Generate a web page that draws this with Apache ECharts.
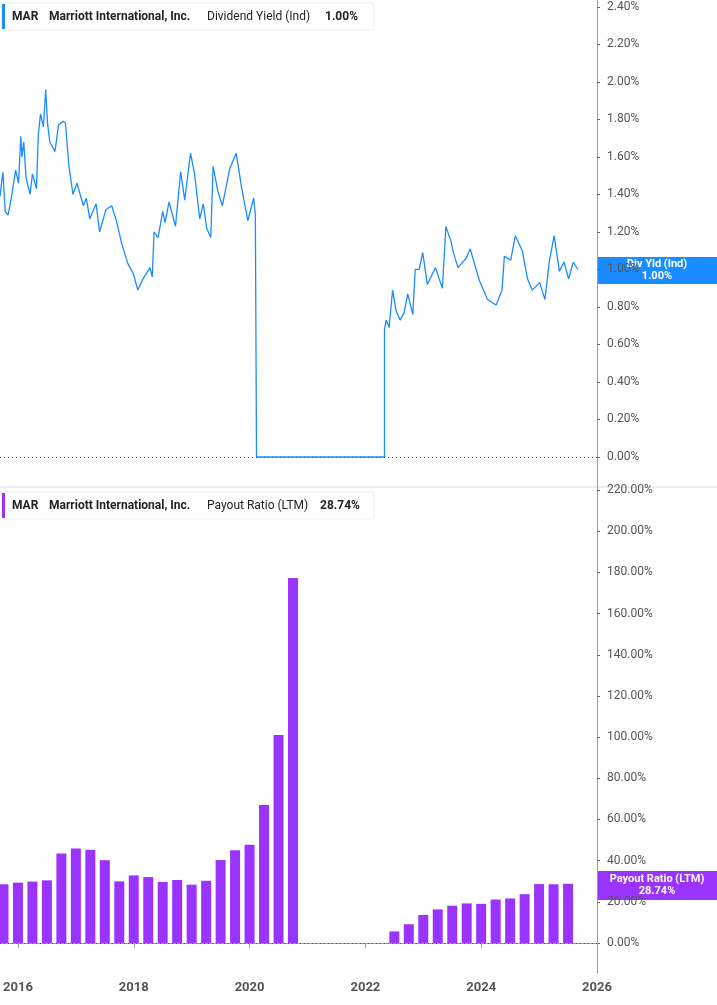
<!DOCTYPE html>
<html>
<head>
<meta charset="utf-8">
<script src="https://cdn.jsdelivr.net/npm/echarts@6/dist/echarts.min.js"></script>
<style>
  html, body { margin: 0; padding: 0; background: #fff; }
  #chart { width: 717px; height: 1005px; }
</style>
</head>
<body>
<div id="chart"></div>
<script>
// dividend yield (%), dates as decimal years
var yieldYears = [2015.69, 2015.74, 2015.78, 2015.83, 2015.89, 2015.96, 2016.01, 2016.05, 2016.07, 2016.10,
    2016.14, 2016.21, 2016.25, 2016.32, 2016.35, 2016.39, 2016.44, 2016.48, 2016.51, 2016.55,
    2016.64, 2016.70, 2016.78, 2016.82, 2016.88, 2016.95, 2017.02, 2017.13, 2017.18, 2017.24,
    2017.35, 2017.41, 2017.52, 2017.62, 2017.70, 2017.79, 2017.90, 2017.99, 2018.07, 2018.16,
    2018.28, 2018.32, 2018.35, 2018.42, 2018.50, 2018.54, 2018.61, 2018.72, 2018.81, 2018.88,
    2018.98, 2019.05, 2019.14, 2019.20, 2019.26, 2019.33, 2019.37, 2019.45, 2019.53, 2019.66,
    2019.77, 2019.86, 2019.97, 2020.07, 2020.10, 2020.12, 2020.12, 2022.33, 2022.33,
    2022.36, 2022.41, 2022.47, 2022.53, 2022.60, 2022.67, 2022.73, 2022.82, 2022.86, 2022.93,
    2022.99, 2023.07, 2023.21, 2023.33, 2023.39, 2023.48, 2023.52, 2023.60, 2023.74, 2023.81,
    2023.97, 2024.11, 2024.26, 2024.36, 2024.40, 2024.51, 2024.59, 2024.71, 2024.80, 2024.88,
    2025.01, 2025.10, 2025.18, 2025.26, 2025.35, 2025.43, 2025.51, 2025.59, 2025.67];
var yieldValues = [1.39, 1.52, 1.31, 1.29, 1.39, 1.53, 1.46, 1.71, 1.60, 1.68,
    1.49, 1.40, 1.51, 1.43, 1.71, 1.83, 1.76, 1.96, 1.78, 1.68,
    1.63, 1.77, 1.79, 1.78, 1.55, 1.40, 1.46, 1.34, 1.38, 1.27,
    1.35, 1.20, 1.32, 1.34, 1.26, 1.14, 1.03, 0.98, 0.89, 0.95,
    1.01, 0.96, 1.20, 1.17, 1.31, 1.25, 1.36, 1.23, 1.52, 1.37,
    1.62, 1.51, 1.27, 1.35, 1.22, 1.17, 1.55, 1.42, 1.34, 1.54,
    1.62, 1.44, 1.26, 1.38, 1.29, 1.29, 0, 0, 0.68,
    0.73, 0.69, 0.89, 0.78, 0.73, 0.77, 0.87, 0.76, 1.00, 1.00,
    1.09, 0.92, 1.01, 0.90, 1.23, 1.15, 1.09, 1.01, 1.06, 1.11,
    0.94, 0.84, 0.81, 0.89, 1.07, 1.05, 1.18, 1.10, 0.95, 0.89,
    0.93, 0.84, 1.05, 1.18, 0.99, 1.04, 0.95, 1.04, 1.00];

// payout ratio (LTM, %), quarter ends as decimal years
var payoutYears = [2015.75, 2016.0, 2016.25, 2016.5, 2016.75, 2017.0,
    2017.25, 2017.5, 2017.75, 2018.0, 2018.25, 2018.5,
    2018.75, 2019.0, 2019.25, 2019.5, 2019.75, 2020.0,
    2020.25, 2020.5, 2020.75,
    2022.5, 2022.75, 2023.0, 2023.25, 2023.5, 2023.75,
    2024.0, 2024.25, 2024.5, 2024.75, 2025.0, 2025.25, 2025.5];
var payoutValues = [28.5, 29.3, 29.8, 30.4, 43.4, 45.9, 45.3, 40.2, 29.9, 32.8, 32.0, 29.6,
    30.6, 28.3, 30.2, 40.3, 45.0, 47.7, 67.0, 101.0, 177.3,
    5.6, 9.1, 13.6, 16.3, 18.1, 19.2, 19.0, 21.1, 21.6, 23.7, 28.6, 28.5, 28.74];

var yieldTicks = [0, 0.2, 0.4, 0.6, 0.8, 1.0, 1.2, 1.4, 1.6, 1.8, 2.0, 2.2, 2.4];
var payoutTicks = [0, 20, 40, 60, 80, 100, 120, 140, 160, 180, 200, 220];
var yearTicks = [2016, 2018, 2020, 2022, 2024, 2026];

var yieldData = yieldYears.map(function (d, i) { return [d, yieldValues[i]]; });
var payoutData = payoutYears.map(function (d, i) { return [d, payoutValues[i]]; });

var chart = echarts.init(document.getElementById('chart'));
var axisCol = '#9a9a9a';
var lblStyle = { color: '#555', fontSize: 12, fontFamily: 'Roboto', margin: 10 };

var option = {
    animation: false,
    grid: [
        { left: 0, right: 120, top: 0, height: 487 },
        { left: 0, right: 120, top: 487, height: 486 }
    ],
    xAxis: [
        { type: 'value', gridIndex: 0, min: 2015.69, max: 2026,
          axisLine: { show: false }, axisTick: { show: false }, axisLabel: { show: false }, splitLine: { show: false } },
        { type: 'value', gridIndex: 1, min: 2015.69, max: 2026,
          axisLine: { lineStyle: { color: axisCol } },
          axisTick: { customValues: yearTicks, length: 5, lineStyle: { color: axisCol } },
          axisLabel: { customValues: yearTicks, color: '#555', fontWeight: 'bold', fontSize: 13, fontFamily: 'Roboto',
              formatter: function (v) { return String(v); } },
          splitLine: { show: false } }
    ],
    yAxis: [
        { type: 'value', gridIndex: 0, position: 'right', min: -0.16, max: 2.437,
          axisLine: { show: true, lineStyle: { color: axisCol } },
          axisTick: { show: true, customValues: yieldTicks, length: 3, lineStyle: { color: '#666' } },
          axisLabel: Object.assign({ customValues: yieldTicks, formatter: function (v) { return v.toFixed(2) + '%'; } }, lblStyle),
          splitLine: { show: false } },
        { type: 'value', gridIndex: 1, position: 'right', min: -14.6, max: 221.5,
          axisLine: { show: true, lineStyle: { color: axisCol } },
          axisTick: { show: true, customValues: payoutTicks, length: 3, lineStyle: { color: '#666' } },
          axisLabel: Object.assign({ customValues: payoutTicks, formatter: function (v) { return v.toFixed(2) + '%'; } }, lblStyle),
          splitLine: { show: false } }
    ],
    series: [
        { type: 'line', xAxisIndex: 0, yAxisIndex: 0, data: yieldData, showSymbol: false,
          lineStyle: { color: '#1a8cff', width: 1.3 },
          markLine: { silent: true, symbol: 'none', label: { show: false },
              lineStyle: { color: '#555', type: [1, 3], width: 1 }, data: [{ yAxis: 0 }] } },
        { type: 'bar', xAxisIndex: 1, yAxisIndex: 1, data: payoutData, barWidth: 10,
          itemStyle: { color: '#9b33ff' },
          markLine: { silent: true, symbol: 'none', label: { show: false },
              lineStyle: { color: '#555', type: [1, 3], width: 1 }, data: [{ yAxis: 0 }] } }
    ],
    graphic: [
        { type: 'line', shape: { x1: 0, y1: 487, x2: 717, y2: 487 }, style: { stroke: '#ddd', lineWidth: 1 } },
        { type: 'rect', shape: { x: 2, y: 3, width: 372, height: 27, r: 3 }, style: { fill: '#fff', stroke: '#eee' } },
        { type: 'rect', shape: { x: 2, y: 4, width: 3, height: 25 }, style: { fill: '#1a8cff' } },
        { type: 'text', x: 12, y: 17, style: { text: 'MAR', fill: '#222', font: 'bold 12px Roboto', verticalAlign: 'middle' } },
        { type: 'text', x: 49, y: 17, style: { text: 'Marriott International, Inc.', fill: '#222', font: 'bold 12px Roboto', verticalAlign: 'middle' } },
        { type: 'text', x: 207, y: 17, style: { text: 'Dividend Yield (Ind)', fill: '#222', font: '12px Roboto', verticalAlign: 'middle' } },
        { type: 'text', x: 325, y: 17, style: { text: '1.00%', fill: '#222', font: 'bold 12px Roboto', verticalAlign: 'middle' } },
        { type: 'rect', shape: { x: 2, y: 492, width: 372, height: 27, r: 3 }, style: { fill: '#fff', stroke: '#eee' } },
        { type: 'rect', shape: { x: 2, y: 493, width: 3, height: 25 }, style: { fill: '#9b33ff' } },
        { type: 'text', x: 12, y: 506, style: { text: 'MAR', fill: '#222', font: 'bold 12px Roboto', verticalAlign: 'middle' } },
        { type: 'text', x: 49, y: 506, style: { text: 'Marriott International, Inc.', fill: '#222', font: 'bold 12px Roboto', verticalAlign: 'middle' } },
        { type: 'text', x: 207, y: 506, style: { text: 'Payout Ratio (LTM)', fill: '#222', font: '12px Roboto', verticalAlign: 'middle' } },
        { type: 'text', x: 320, y: 506, style: { text: '28.74%', fill: '#222', font: 'bold 12px Roboto', verticalAlign: 'middle' } },
        { type: 'rect', shape: { x: 598, y: 257, width: 119, height: 27 }, style: { fill: '#1a8cff' } },
        { type: 'text', x: 657, y: 270, style: { text: 'Div Yld (Ind)\n1.00%', fill: '#fff', font: 'bold 11px Roboto', align: 'center', verticalAlign: 'middle', lineHeight: 12 } },
        { type: 'rect', shape: { x: 598, y: 871, width: 119, height: 29 }, style: { fill: '#9b33ff' } },
        { type: 'text', x: 657, y: 885, style: { text: 'Payout Ratio (LTM)\n28.74%', fill: '#fff', font: 'bold 11px Roboto', align: 'center', verticalAlign: 'middle', lineHeight: 12 } }
    ]
};
chart.setOption(option);
</script>
</body>
</html>
